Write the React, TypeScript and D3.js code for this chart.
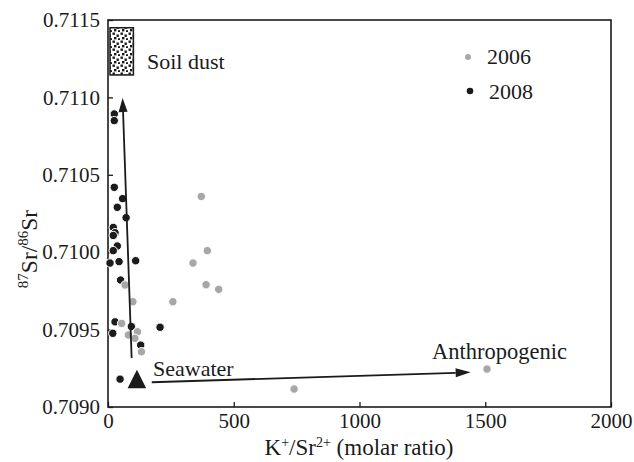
import {useEffect, useRef} from 'react';
import * as d3 from 'd3';

const [W, H] = [634, 462];
const FONT = '"Liberation Serif", "Times New Roman", serif';

// 2006 samples (grey)
const k2006 = [371, 395, 338, 390, 440, 258, 740, 1507, 68, 99, 54, 81, 117, 107, 133];
const sr2006 = [0.71036, 0.71001, 0.70993, 0.70979, 0.70976, 0.70968, 0.709116, 0.709245,
    0.709788, 0.70968, 0.70954, 0.709465, 0.709486, 0.709444, 0.709357];

// 2008 samples (black)
const k2008 = [25, 25, 25, 58, 37, 72, 21, 28, 21, 37, 21, 8, 44, 110, 50, 28, 19, 207, 130, 48, 93];
const sr2008 = [0.710893, 0.71085, 0.710419, 0.710346, 0.71029, 0.710223, 0.71016, 0.710126,
    0.710108, 0.71004, 0.71001, 0.70993, 0.709939, 0.709945, 0.70982, 0.70955, 0.709476,
    0.709515, 0.7094, 0.70918, 0.70952];

// end members and mixing arrows
const seawater = [115, 0.70917];
const soilDust = [[8, 0.71145], [101, 0.711145]];
const arrowUp = [[94, 0.709317], [58, 0.710996]];
const arrowRight = [[174, 0.70916], [1442, 0.709224]];

const xTicks = [0, 500, 1000, 1500, 2000];
const yTicks = [0.709, 0.7095, 0.71, 0.7105, 0.711, 0.7115];

const x = d3.scaleLinear().domain([0, 2000]).range([108, 611]);
const y = d3.scaleLinear().domain([0.709, 0.7115]).range([407, 20]);

const GREY = '#a7a7a9';
const BLACK = '#1b1b1b';

function arrowPath(p0, p1, len, half) {
    const [x0, y0, x1, y1] = [x(p0[0]), y(p0[1]), x(p1[0]), y(p1[1])];
    const a = Math.atan2(y1 - y0, x1 - x0);
    const bx = x1 - len * Math.cos(a), by = y1 - len * Math.sin(a);
    const nx = -Math.sin(a) * half, ny = Math.cos(a) * half;
    return {
        line: `M${x0},${y0}L${bx},${by}`,
        head: `M${x1},${y1}L${bx + nx},${by + ny}L${bx - nx},${by - ny}Z`,
    };
}

export default function App() {
    const xAxis = useRef();
    const yAxis = useRef();

    useEffect(() => {
        const gx = d3.select(xAxis.current);
        gx.call(d3.axisBottom(x).tickValues(xTicks).tickFormat(d3.format('d')).tickSizeInner(-5).tickSizeOuter(0).tickPadding(6));
        gx.attr('font-family', FONT).attr('font-size', 21);
        gx.select('.domain').remove();
        gx.selectAll('line').attr('stroke', BLACK).attr('stroke-width', 1.3);
        gx.selectAll('text').attr('fill', BLACK);

        const gy = d3.select(yAxis.current);
        gy.call(d3.axisLeft(y).tickValues(yTicks).tickFormat(d3.format('.4f')).tickSizeInner(-5).tickSizeOuter(0).tickPadding(8));
        gy.attr('font-family', FONT).attr('font-size', 21);
        gy.select('.domain').remove();
        gy.selectAll('line').attr('stroke', BLACK).attr('stroke-width', 1.3);
        gy.selectAll('text').attr('fill', BLACK);
    }, []);

    const up = arrowPath(arrowUp[0], arrowUp[1], 14, 4.5);
    const right = arrowPath(arrowRight[0], arrowRight[1], 15, 4.5);
    const sx = x(seawater[0]), sy = y(seawater[1]);

    return (
        <div style={{position: 'absolute', left: 0, top: 0}}>
            <svg width={W} height={H} style={{display: 'block', background: '#fff'}}
                 fontFamily={FONT} fill={BLACK}>
                <defs>
                    <pattern id="dust" width="8" height="8" patternUnits="userSpaceOnUse">
                        <rect x="0.5" y="0.5" width="2.4" height="2.4" fill={BLACK} />
                        <rect x="4.5" y="2.5" width="2.4" height="2.4" fill={BLACK} />
                        <rect x="2" y="5" width="2.4" height="2.4" fill={BLACK} />
                        <rect x="6" y="6.2" width="2" height="2" fill={BLACK} />
                    </pattern>
                </defs>

                <rect x={x(0)} y={y(0.7115)} width={x(2000) - x(0)} height={y(0.709) - y(0.7115)}
                      fill="none" stroke={BLACK} strokeWidth={1.6} />
                <g ref={xAxis} transform={`translate(0,${y(0.709)})`} />
                <g ref={yAxis} transform={`translate(${x(0)},0)`} />

                <rect x={x(soilDust[0][0])} y={y(soilDust[0][1])}
                      width={x(soilDust[1][0]) - x(soilDust[0][0])}
                      height={y(soilDust[1][1]) - y(soilDust[0][1])}
                      fill="url(#dust)" stroke={BLACK} strokeWidth={1.5} />
                <text x={147} y={69} fontSize={22}>Soil dust</text>

                {k2008.map((k, i) => (
                    <circle key={'b' + i} cx={x(k)} cy={y(sr2008[i])} r={4.2}
                            fill={BLACK} stroke="#fff" strokeWidth={1} />
                ))}
                {k2006.map((k, i) => (
                    <circle key={'g' + i} cx={x(k)} cy={y(sr2006[i])} r={4.2}
                            fill={GREY} stroke="#fff" strokeWidth={1} />
                ))}

                <path d={up.line} stroke={BLACK} strokeWidth={1.8} fill="none" />
                <path d={up.head} fill={BLACK} />
                <path d={right.line} stroke={BLACK} strokeWidth={1.8} fill="none" />
                <path d={right.head} fill={BLACK} />

                <path d={`M${sx},${sy - 11}L${sx + 9.3},${sy + 7.5}L${sx - 9.3},${sy + 7.5}Z`} fill={BLACK} />
                <text x={153} y={376} fontSize={22}>Seawater</text>
                <text x={432} y={359} fontSize={22.5}>Anthropogenic</text>

                <circle cx={468} cy={57} r={3} fill={GREY} />
                <text x={487} y={64} fontSize={22}>2006</text>
                <circle cx={470} cy={91} r={3.3} fill={BLACK} />
                <text x={489} y={99} fontSize={22}>2008</text>

                <text x={359} y={455} textAnchor="middle" fontSize={23}>
                    <tspan>K</tspan><tspan fontSize={14} dy={-8}>+</tspan>
                    <tspan dy={8}>/Sr</tspan><tspan fontSize={14} dy={-8}>2+</tspan>
                    <tspan dy={8}> (molar ratio)</tspan>
                </text>
                <text transform="translate(37,249) rotate(-90)" textAnchor="middle" fontSize={23.5}>
                    <tspan fontSize={15} dy={-9}>87</tspan><tspan dy={9}>Sr/</tspan>
                    <tspan fontSize={15} dy={-9}>86</tspan><tspan dy={9}>Sr</tspan>
                </text>
            </svg>
        </div>
    );
}
